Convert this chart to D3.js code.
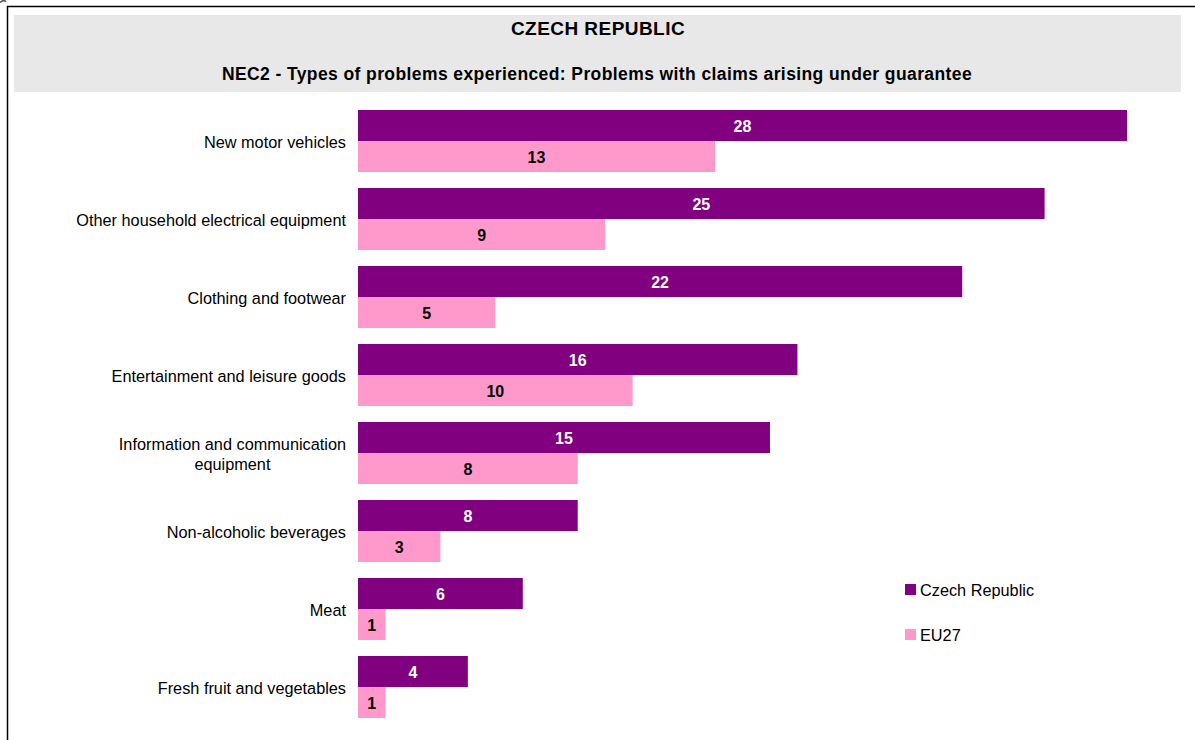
<!DOCTYPE html>
<html><head><meta charset="utf-8">
<script src="https://cdn.jsdelivr.net/npm/d3@7"></script>
<style>body{margin:0;background:#fff;} text{font-family:"Liberation Sans",Arial,sans-serif;}</style>
</head><body>
<svg id="c" width="1195" height="740"></svg>
<script>
const categories = ["New motor vehicles","Other household electrical equipment","Clothing and footwear","Entertainment and leisure goods","Information and communication equipment","Non-alcoholic beverages","Meat","Fresh fruit and vegetables"];
const czValues = [28,25,22,16,15,8,6,4];
const euValues = [13,9,5,10,8,3,1,1];
const seriesNames = ["Czech Republic","EU27"];
const colors = ["#800080","#ff99cc"];
const labelColors = ["#ffffff","#000000"];

const svg = d3.select("#c");
// corner mark
svg.append("path").attr("d","M0,2.5 Q3,-0.5 6,1.5").attr("fill","none").attr("stroke","#555").attr("stroke-width",1.5);
// frame
svg.append("line").attr("x1",7.5).attr("x2",7.5).attr("y1",6).attr("y2",740).attr("stroke","#000").attr("stroke-width",1.5);
svg.append("line").attr("x1",7).attr("x2",1195).attr("y1",6.5).attr("y2",6.5).attr("stroke","#000").attr("stroke-width",1.5);
// title panel
svg.append("rect").attr("x",14).attr("y",15).attr("width",1167).attr("height",77).attr("fill","#e8e8e8");
svg.append("text").attr("x",598).attr("y",35).attr("text-anchor","middle").attr("font-weight","bold").attr("font-size",19).attr("letter-spacing",0.45).text("CZECH REPUBLIC");
svg.append("text").attr("x",597).attr("y",80).attr("text-anchor","middle").attr("font-weight","bold").attr("font-size",17.5).attr("letter-spacing",0.4).text("NEC2 - Types of problems experienced: Problems with claims arising under guarantee");

const x = d3.scaleLinear().domain([0,28]).range([358,1127]);
const y = d3.scaleBand().domain(categories).range([102,726]).paddingInner(16/78).paddingOuter(16/78/2);
const sub = d3.scaleBand().domain(seriesNames).range([0,y.bandwidth()]);

const data = categories.map((c,i)=>({cat:c, vals:[czValues[i],euValues[i]]}));
const g = svg.selectAll("g.grp").data(data).join("g").attr("class","grp").attr("transform",d=>`translate(0,${y(d.cat)})`);
seriesNames.forEach((s,si)=>{
  g.append("rect").attr("x",x(0)).attr("y",sub(s)).attr("width",d=>x(d.vals[si])-x(0)).attr("height",sub.bandwidth()).attr("fill",colors[si]);
  g.append("text").attr("x",d=>(x(0)+x(d.vals[si]))/2).attr("y",sub(s)+sub.bandwidth()/2+6).attr("text-anchor","middle")
    .attr("font-weight","bold").attr("font-size",16).attr("fill",labelColors[si]).text(d=>d.vals[si]);
});
// category labels
const labelLines = {"Information and communication equipment":["Information and communication","equipment"]};
const fs = 16.3;
g.each(function(d){
  const lines = labelLines[d.cat] || [d.cat];
  const cy = y.bandwidth()/2;
  const t = d3.select(this).append("text").attr("font-size",fs).attr("fill","#000");
  if(lines.length===1){
    t.attr("x",346).attr("y",cy+7).attr("text-anchor","end").text(lines[0]);
  } else {
    const tmp = d3.select(this).append("text").attr("font-size",fs).text(lines[0]);
    const w = tmp.node().getComputedTextLength(); tmp.remove();
    const cx = 346 - w/2;
    lines.forEach((ln,li)=>{
      t.append("tspan").attr("x",cx).attr("y",cy+7+(li-(lines.length-1)/2)*20).attr("text-anchor","middle").text(ln);
    });
  }
});
// legend
const leg = svg.selectAll("g.leg").data(seriesNames).join("g").attr("class","leg").attr("transform",(d,i)=>`translate(905,${584+i*45})`);
leg.append("rect").attr("width",11).attr("height",11).attr("fill",(d,i)=>colors[i]);
leg.append("text").attr("x",15).attr("y",12).attr("font-size",16.3).text(d=>d);
</script>
</body></html>
